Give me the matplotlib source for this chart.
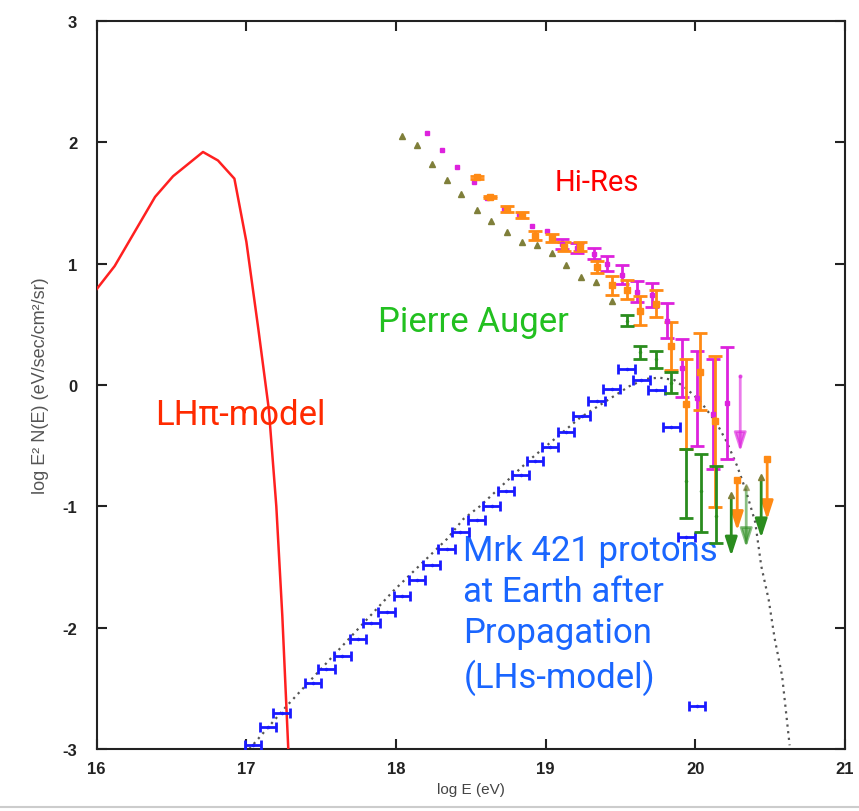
import numpy as np
import matplotlib
matplotlib.use("Agg")
import matplotlib.pyplot as plt
from matplotlib.lines import Line2D

plt.rcParams['axes.unicode_minus'] = False

# LH-pi model curve (red)
lhpi_x = [16.0, 16.12, 16.39, 16.51, 16.71, 16.81, 16.92, 17.0, 17.08, 17.15, 17.2, 17.24, 17.28]
lhpi_y = [0.79, 0.98, 1.55, 1.72, 1.92, 1.85, 1.70, 1.18, 0.46, -0.2, -1.0, -1.9, -3.0]

# propagated Mrk 421 protons model (dotted)
prop_x = [17.02, 17.27, 17.98, 18.34, 18.45, 18.56, 18.89, 19.23, 19.56, 19.67, 19.76, 19.86,
          19.94, 20.03, 20.14, 20.21, 20.28, 20.34, 20.40, 20.44, 20.49, 20.53, 20.58, 20.63]
prop_y = [-3.0, -2.645, -1.70, -1.27, -1.105, -1.0, -0.62, -0.27, -0.01, 0.05, 0.06, 0.04,
          -0.03, -0.13, -0.31, -0.47, -0.67, -0.88, -1.13, -1.49, -1.77, -2.09, -2.40, -2.97]

# Mrk 421 protons at Earth (blue points)
blue_x = [17.045, 17.145, 17.235, 17.446, 17.535, 17.642, 17.747, 17.836, 17.937, 18.041,
          18.141, 18.237, 18.338, 18.43, 18.538, 18.638, 18.734, 18.832, 18.93, 19.028,
          19.135, 19.24, 19.34, 19.44, 19.54, 19.64, 19.74, 19.84, 19.94, 20.01]
blue_y = [-2.97, -2.82, -2.70, -2.46, -2.34, -2.23, -2.09, -1.96, -1.87, -1.74,
          -1.61, -1.48, -1.35, -1.21, -1.11, -1.00, -0.87, -0.74, -0.63, -0.51,
          -0.39, -0.26, -0.13, -0.03, 0.13, 0.04, -0.04, -0.35, -1.25, -2.65]
blue_xerr = 0.055

# olive triangles
tri_x = [18.043, 18.137, 18.237, 18.342, 18.433, 18.538, 18.634, 18.739, 18.839, 18.939,
         19.04, 19.135, 19.235, 19.336, 19.44]
tri_y = [2.05, 1.98, 1.82, 1.69, 1.57, 1.44, 1.35, 1.26, 1.18, 1.15,
         1.09, 0.99, 0.89, 0.85, 0.69]

# Hi-Res (magenta)
mag_x = [18.21, 18.31, 18.41, 18.52, 18.61, 18.72, 18.82, 18.91, 19.01, 19.11, 19.21,
         19.32, 19.41, 19.51, 19.61, 19.71, 19.81, 19.91, 20.01, 20.12, 20.21]
mag_y = [2.08, 1.94, 1.80, 1.67, 1.54, 1.45, 1.40, 1.31, 1.27, 1.16, 1.13,
         1.08, 1.00, 0.91, 0.77, 0.74, 0.53, 0.14, -0.11, -0.24, -0.15]
mag_err = [0, 0, 0, 0, 0, 0, 0, 0, 0, 0.04, 0.04,
           0.045, 0.06, 0.075, 0.085, 0.10, 0.145, 0.24, 0.39, 0.45, 0.46]
mag_lim_x = [20.30]
mag_lim_y = [0.07]
mag_lim_tip = [-0.55]

# Hi-Res (orange)
ora_x = [18.54, 18.63, 18.74, 18.84, 18.93, 19.04, 19.12, 19.23, 19.34, 19.44, 19.54,
         19.63, 19.74, 19.84, 19.94, 20.03, 20.13]
ora_y = [1.71, 1.55, 1.45, 1.40, 1.23, 1.21, 1.14, 1.14, 0.97, 0.82, 0.785,
         0.61, 0.67, 0.32, -0.16, 0.11, -0.30]
ora_err_lo = [0.01, 0.01, 0.025, 0.025, 0.035, 0.035, 0.04, 0.04, 0.05, 0.075, 0.08,
              0.12, 0.11, 0.20, 0.37, 0.32, 0.71]
ora_err_hi = [0.01, 0.01, 0.025, 0.025, 0.035, 0.035, 0.04, 0.04, 0.05, 0.075, 0.08,
              0.12, 0.11, 0.20, 0.37, 0.32, 0.54]
ora_lim_x = [20.28, 20.48]
ora_lim_y = [-0.78, -0.61]
ora_lim_tip = [-1.20, -1.11]

# Pierre Auger (green)
grn_x = [19.54, 19.63, 19.74, 19.84, 19.94, 20.04, 20.14]
grn_y = [0.53, 0.27, 0.21, 0.02, -0.79, -0.87, -1.08]
grn_err_lo = [0.045, 0.055, 0.07, 0.085, 0.31, 0.34, 0.22]
grn_err_hi = [0.045, 0.055, 0.07, 0.085, 0.26, 0.30, 0.41]
grn_lim_x = [20.24, 20.34, 20.44]
grn_lim_y = [-0.91, -0.84, -0.76]
grn_lim_tip = [-1.41, -1.34, -1.26]
grn_lim_alpha = [1.0, 0.55, 1.0]

RED = '#ff2020'
MAG = '#dd22dd'
ORA = '#ff8a14'
GRN = '#2a8c1e'
OLV = '#7f7f3a'
BLU = '#1a1aff'

fig = plt.figure(figsize=(8.59, 8.12), dpi=100)
ax = fig.add_axes([0.1126, 0.0764, 0.8711, 0.8966])

ax.plot(lhpi_x, lhpi_y, color=RED, lw=1.8, zorder=3)
ax.plot(prop_x, prop_y, color='#555555', lw=1.6, linestyle=(0, (1, 2)), zorder=2)

ax.errorbar(blue_x, blue_y, xerr=blue_xerr, fmt='.', color=BLU, ms=3,
            elinewidth=2, capsize=3.5, capthick=2, zorder=4)

ax.plot(tri_x, tri_y, '^', color=OLV, ms=5, zorder=4)

mag_x = np.array(mag_x)
mag_y = np.array(mag_y)
mag_err = np.array(mag_err)
has_err = mag_err > 0
ax.plot(mag_x[~has_err], mag_y[~has_err], 's', color=MAG, ms=3.5, zorder=5)
ax.errorbar(mag_x[has_err], mag_y[has_err], yerr=mag_err[has_err], fmt='s', color=MAG,
            ms=3.5, elinewidth=2, capsize=5, capthick=2, zorder=5)
ax.errorbar(ora_x, ora_y, yerr=[ora_err_lo, ora_err_hi], fmt='s', color=ORA, ms=4,
            elinewidth=2, capsize=5, capthick=2, zorder=5)
ax.errorbar(grn_x, grn_y, yerr=[grn_err_lo, grn_err_hi], fmt='.', color=GRN, ms=3,
            elinewidth=2, capsize=5, capthick=2, zorder=5)


def upper_limits(xs, ys, tips, color, marker, mcolor, alphas=None):
    for i, (x, y, t) in enumerate(zip(xs, ys, tips)):
        a = 1.0 if alphas is None else alphas[i]
        ax.annotate('', xy=(x, t), xytext=(x, y),
                    arrowprops=dict(arrowstyle='-|>,head_length=0.8,head_width=0.26',
                                    color=color, lw=2, mutation_scale=14, alpha=a,
                                    shrinkA=0, shrinkB=0), zorder=5)
        ax.plot([x], [y], marker, color=mcolor, ms=4, alpha=a, zorder=6)


upper_limits(mag_lim_x, mag_lim_y, mag_lim_tip, MAG, '.', MAG, [0.6])
upper_limits(ora_lim_x, ora_lim_y, ora_lim_tip, ORA, 's', ORA)
upper_limits(grn_lim_x, grn_lim_y, grn_lim_tip, GRN, '^', OLV, grn_lim_alpha)

ax.text(19.34, 1.67, 'Hi-Res', color='#ff0000', ha='center', va='center',
        family='Roboto', fontsize=21)
ax.text(17.88, 0.52, 'Pierre Auger', color='#22c020', ha='left', va='center',
        family='Roboto', fontsize=25)
ax.text(16.39, -0.24, 'LHπ-model', color='#ff2a00', ha='left', va='center',
        family='Roboto', fontsize=25)
ax.text(18.45, -1.23, 'Mrk 421 protons\nat Earth after\nPropagation\n(LHs-model)',
        color='#1a66ff', ha='left', va='top', linespacing=1.31,
        family='Roboto', fontsize=25)

ax.set_xlim(16, 21)
ax.set_ylim(-3, 3)
ax.set_xticks([16, 17, 18, 19, 20, 21])
ax.set_yticks([-3, -2, -1, 0, 1, 2, 3])
ax.tick_params(direction='in', length=7, width=1.5, top=True, right=True,
               labelsize=11, colors='#222222')
ax.tick_params(axis='x', pad=9)
ax.tick_params(axis='y', pad=14)
for lab in ax.get_xticklabels() + ax.get_yticklabels():
    lab.set_family('Liberation Sans')
    lab.set_fontweight('bold')
    lab.set_fontsize(12)
for s in ax.spines.values():
    s.set_linewidth(1.5)
    s.set_color('#222222')

ax.set_xlabel('log E (eV)', family='Liberation Sans',
              fontsize=11, color='#444444', labelpad=4)
ax.set_ylabel('log E² N(E) (eV/sec/cm²/sr)', family='Liberation Sans',
              fontsize=13, color='#555555', labelpad=10)

fig.add_artist(Line2D([0, 1], [0.005, 0.005], color='#cccccc', lw=1.5,
                      transform=fig.transFigure))

fig.savefig('out.png', dpi=100)
